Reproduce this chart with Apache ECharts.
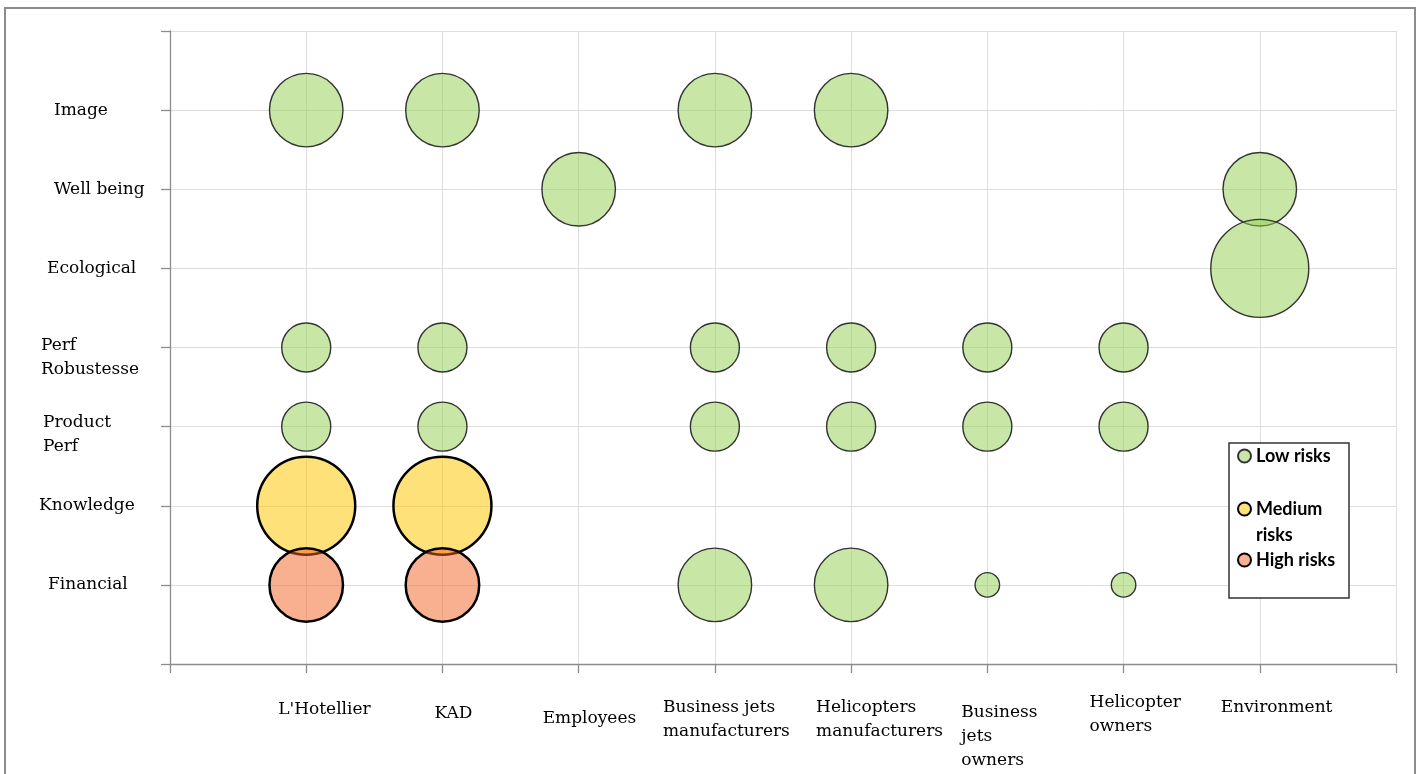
<!DOCTYPE html>
<html>
<head>
<meta charset="utf-8">
<title>Stakeholder risks</title>
<script src="https://cdn.jsdelivr.net/npm/echarts@6/dist/echarts.min.js"></script>
<style>
html, body { margin: 0; padding: 0; background: #fff; }
#main { width: 1423px; height: 774px; }
</style>
</head>
<body>
<div id="main"></div>
<script>
// stakeholders sit on x = 1..8, kinds of risk on y = 1..7
const stakeholders = ["L'Hotellier", 'KAD', 'Employees', 'Business jets\nmanufacturers', 'Helicopters\nmanufacturers', 'Business\njets\nowners', 'Helicopter\nowners', 'Environment'];
const riskTypes = ['Financial', 'Knowledge', 'Product\nPerf', 'Perf\nRobustesse', 'Ecological', 'Well being', 'Image'];

// [stakeholder, risk type, bubble size]
const lowRisks = [
    [1, 7, 9], [2, 7, 9], [4, 7, 9], [5, 7, 9],
    [3, 6, 9], [8, 6, 9],
    [8, 5, 16],
    [1, 4, 4], [2, 4, 4], [4, 4, 4], [5, 4, 4], [6, 4, 4], [7, 4, 4],
    [1, 3, 4], [2, 3, 4], [4, 3, 4], [5, 3, 4], [6, 3, 4], [7, 3, 4],
    [4, 1, 9], [5, 1, 9], [6, 1, 1], [7, 1, 1]
];
const mediumRisks = [[1, 2, 16], [2, 2, 16]];
const highRisks = [[1, 1, 9], [2, 1, 9]];

// excel scattered the labels around a bit, copy that
const xLabelShift = [72, 92, 64, 48, 65, 74, 66, 61];
const xLabelDrop = [7, 11, 16, 5, 5, 10, 0, 5];
const yLabelShift = [26, 17, 21, 19, 25, 32, 32];
const yLabelDrop = [0, 0, 16, 21, 0, 0, 0];

const SERIF = 'DejaVu Serif';
const LEGEND_FONT = {fontFamily: 'Lato', fontWeight: 'bold', fontSize: 18, color: '#000', lineHeight: 26};

let xRich = {t: {fontFamily: SERIF, fontSize: 17, color: '#000', lineHeight: 24, align: 'left'}};
let yRich = {t: {fontFamily: SERIF, fontSize: 17, color: '#000', lineHeight: 24, align: 'left'}};
xLabelShift.forEach(function (w, i) {
    xRich['s' + i] = {width: w, lineHeight: 24, align: 'left'};
    xRich['v' + i] = {lineHeight: xLabelDrop[i], fontSize: 1};
});
yLabelShift.forEach(function (w, i) {
    yRich['s' + i] = {width: w, lineHeight: 24, align: 'left'};
    yRich['v' + i] = {lineHeight: yLabelDrop[i], fontSize: 1};
});

function richLabel(text, i, drop) {
    let lines = text.split('\n').map(function (l) {
        return '{s' + i + '|}{t|' + l + '}';
    });
    return (drop ? '{v' + i + '|}\n' : '') + lines.join('\n');
}

function bubbleSize(d) {
    return Math.sqrt(d[2]) * 24.5;
}

let myChart = echarts.init(document.getElementById('main'));

let option = {
    animation: false,
    backgroundColor: '#fff',
    grid: {left: 170, right: 27, top: 31, bottom: 110, containLabel: false, outerBoundsMode: 'none'},
    graphic: [
        {type: 'rect', z: 0, shape: {x: 5, y: 8, width: 1410, height: 790},
            style: {fill: null, stroke: '#8c8c8c', lineWidth: 2}},
        {type: 'rect', z: 3, shape: {x: 1229, y: 443, width: 120, height: 155},
            style: {fill: '#fff', stroke: '#333', lineWidth: 1.5}}
    ],
    legend: [
        {data: ['Low risks'], left: 1237, top: 443},
        {data: ['Medium risks'], left: 1237, top: 470, formatter: '{p|}\n{t|Medium}\n{t|risks}'},
        {data: ['High risks'], left: 1237, top: 547}
    ].map(function (l) {
        return Object.assign({
            orient: 'vertical', padding: 0, z: 4, selectedMode: false,
            itemWidth: 13, itemHeight: 13, icon: 'circle',
            textStyle: Object.assign({rich: {p: {lineHeight: 26, fontSize: 1}, t: LEGEND_FONT}}, LEGEND_FONT)
        }, l);
    }),
    xAxis: {
        type: 'value', min: 0, max: 9, interval: 1,
        axisLine: {show: true, lineStyle: {color: '#8c8c8c', width: 1.3}},
        axisTick: {show: true, length: 9, lineStyle: {color: '#8c8c8c', width: 1.3}},
        splitLine: {show: true, lineStyle: {color: '#dedede', width: 1}},
        axisLabel: {
            margin: 27, align: 'center', width: 200, overflow: 'none',
            formatter: function (val) {
                let i = Math.round(val) - 1;
                if (i < 0 || i >= stakeholders.length) return '';
                return richLabel(stakeholders[i], i, xLabelDrop[i]);
            },
            rich: xRich
        }
    },
    yAxis: {
        type: 'value', min: 0, max: 8, interval: 1,
        axisLine: {show: true, lineStyle: {color: '#8c8c8c', width: 1.3}},
        axisTick: {show: true, length: 9, lineStyle: {color: '#8c8c8c', width: 1.3}},
        splitLine: {show: true, lineStyle: {color: '#dedede', width: 1}},
        axisLabel: {
            margin: 8, align: 'right', width: 140, overflow: 'none',
            formatter: function (val) {
                let i = Math.round(val) - 1;
                if (i < 0 || i >= riskTypes.length) return '';
                return richLabel(riskTypes[i], i, yLabelDrop[i]);
            },
            rich: yRich
        }
    },
    series: [
        {
            name: 'Low risks', type: 'scatter', data: lowRisks, symbolSize: bubbleSize,
            itemStyle: {color: 'rgba(146,208,80,0.5)', borderColor: '#333', borderWidth: 1.4, opacity: 1},
            emphasis: {disabled: true}, silent: true
        },
        {
            name: 'Medium risks', type: 'scatter', data: mediumRisks, symbolSize: bubbleSize,
            itemStyle: {color: 'rgba(255,197,0,0.52)', borderColor: '#000', borderWidth: 2.5, opacity: 1},
            emphasis: {disabled: true}, silent: true
        },
        {
            name: 'High risks', type: 'scatter', data: highRisks, symbolSize: bubbleSize,
            itemStyle: {color: 'rgba(243,97,35,0.5)', borderColor: '#000', borderWidth: 2.5, opacity: 1},
            emphasis: {disabled: true}, silent: true
        }
    ]
};

myChart.setOption(option);
</script>
</body>
</html>
